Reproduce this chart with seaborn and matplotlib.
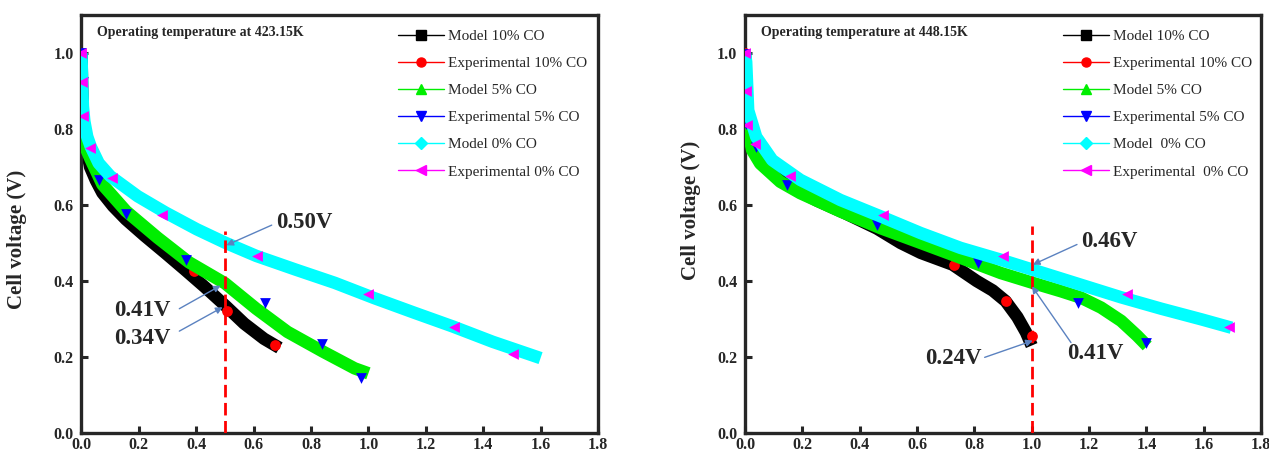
import matplotlib
matplotlib.use("Agg")
import matplotlib.pyplot as plt
from matplotlib.lines import Line2D
import seaborn as sns
import pandas as pd

# ---------------- data: 423.15 K ----------------
a_m10_x = [0.0, 0.002, 0.005, 0.01, 0.02, 0.03, 0.05, 0.073, 0.11, 0.155, 0.22, 0.29, 0.36, 0.43, 0.5, 0.567, 0.636, 0.69]
a_m10_y = [1.0, 0.92, 0.83, 0.78, 0.74, 0.70, 0.665, 0.632, 0.597, 0.562, 0.519, 0.475, 0.43, 0.384, 0.336, 0.288, 0.248, 0.224]
a_e10_x = [0.0, 0.003, 0.006, 0.393, 0.506, 0.674]
a_e10_y = [1.0, 0.92, 0.83, 0.427, 0.321, 0.231]
a_m5_x = [0.0, 0.003, 0.008, 0.015, 0.032, 0.073, 0.155, 0.265, 0.375, 0.5, 0.609, 0.718, 0.842, 0.952, 1.0]
a_m5_y = [0.85, 0.80, 0.77, 0.75, 0.72, 0.654, 0.584, 0.514, 0.449, 0.394, 0.327, 0.266, 0.214, 0.17, 0.157]
a_e5_x = [0.0, 0.004, 0.007, 0.06, 0.155, 0.364, 0.639, 0.839, 0.973]
a_e5_y = [1.0, 0.924, 0.83, 0.667, 0.575, 0.455, 0.343, 0.234, 0.144]
a_m0_x = [0.0, 0.002, 0.005, 0.01, 0.02, 0.032, 0.06, 0.1, 0.196, 0.293, 0.402, 0.5, 0.609, 0.746, 0.883, 1.02, 1.158, 1.295, 1.433, 1.6]
a_m0_y = [1.0, 0.93, 0.86, 0.82, 0.78, 0.754, 0.71, 0.676, 0.623, 0.58, 0.536, 0.501, 0.466, 0.43, 0.395, 0.355, 0.317, 0.28, 0.24, 0.197]
a_e0_x = [0.0, 0.002, 0.004, 0.029, 0.107, 0.282, 0.611, 1.0, 1.298, 1.504]
a_e0_y = [1.0, 0.924, 0.833, 0.75, 0.67, 0.573, 0.466, 0.366, 0.279, 0.209]

# ---------------- data: 448.15 K ----------------
b_m10_x = [0.0, 0.003, 0.008, 0.018, 0.04, 0.08, 0.15, 0.25, 0.35, 0.46, 0.543, 0.613, 0.724, 0.808, 0.864, 0.909, 0.95, 0.98, 1.0]
b_m10_y = [1.0, 0.93, 0.84, 0.77, 0.735, 0.695, 0.652, 0.612, 0.578, 0.538, 0.5, 0.474, 0.443, 0.40, 0.375, 0.347, 0.305, 0.265, 0.23]
b_e10_x = [0.0, 0.005, 0.01, 0.729, 0.909, 1.0]
b_e10_y = [1.0, 0.9, 0.82, 0.443, 0.347, 0.255]
b_m5_x = [0.0, 0.003, 0.008, 0.015, 0.025, 0.053, 0.123, 0.193, 0.333, 0.473, 0.613, 0.752, 0.892, 1.004, 1.102, 1.172, 1.242, 1.312, 1.368, 1.403]
b_m5_y = [0.975, 0.9, 0.83, 0.78, 0.744, 0.709, 0.661, 0.631, 0.583, 0.539, 0.5, 0.461, 0.421, 0.395, 0.373, 0.356, 0.33, 0.295, 0.256, 0.229]
b_e5_x = [0.0, 0.008, 0.004, 0.04, 0.148, 0.459, 0.811, 1.161, 1.399]
b_e5_y = [0.997, 0.9, 0.814, 0.753, 0.653, 0.548, 0.448, 0.343, 0.238]
b_m0_x = [0.0, 0.004, 0.011, 0.039, 0.095, 0.193, 0.333, 0.473, 0.613, 0.752, 0.892, 1.032, 1.172, 1.312, 1.452, 1.592, 1.697]
b_m0_y = [1.0, 0.976, 0.849, 0.779, 0.718, 0.666, 0.613, 0.57, 0.526, 0.487, 0.456, 0.423, 0.39, 0.357, 0.327, 0.299, 0.277]
b_e0_x = [0.0, 0.004, 0.008, 0.036, 0.158, 0.48, 0.9, 1.333, 1.69]
b_e0_y = [1.0, 0.901, 0.81, 0.76, 0.676, 0.574, 0.465, 0.365, 0.28]

titles = ["Operating temperature at 423.15K", "Operating temperature at 448.15K"]
labels_a = ["Model 10% CO", "Experimental 10% CO", "Model 5% CO", "Experimental 5% CO", "Model 0% CO", "Experimental 0% CO"]
labels_b = ["Model 10% CO", "Experimental 10% CO", "Model 5% CO", "Experimental 5% CO", "Model  0% CO", "Experimental  0% CO"]
x_ticks = [0.0, 0.2, 0.4, 0.6, 0.8, 1.0, 1.2, 1.4, 1.6, 1.8]
y_ticks = [0.0, 0.2, 0.4, 0.6, 0.8, 1.0]

# annotation data
a_cut = 0.5
b_cut = 1.0
a_notes = [("0.50V", 0.68, 0.553, 0.663, 0.547, 0.505, 0.494),
           ("0.41V", 0.114, 0.323, 0.341, 0.327, 0.485, 0.388),
           ("0.34V", 0.114, 0.248, 0.341, 0.268, 0.492, 0.331)]
b_notes = [("0.46V", 1.172, 0.504, 1.158, 0.496, 1.004, 0.443),
           ("0.41V", 1.123, 0.209, 1.137, 0.238, 1.001, 0.386),
           ("0.24V", 0.629, 0.195, 0.836, 0.199, 1.004, 0.243)]

sns.set_style("ticks")
plt.rcParams['font.family'] = ['Liberation Serif', 'DejaVu Serif']

colors = ['black', 'red', '#00ee00', 'blue', 'cyan', 'magenta']
markers = ['s', 'o', '^', 'v', 'D', '<']

fig = plt.figure(figsize=(12.69, 4.55), dpi=100)
ax1 = fig.add_axes([0.0642, 0.0484, 0.407, 0.9187])
ax2 = fig.add_axes([0.5871, 0.0484, 0.4066, 0.9187])

arrow_col = '#5b82c0'


def draw(ax, series, title, labels, cut, cut_top, notes, legx, ylab_xy):
    for i, (xs, ys) in enumerate(series):
        df = pd.DataFrame({'x': xs, 'y': ys})
        if i % 2 == 0:
            sns.lineplot(data=df, x='x', y='y', sort=False, color=colors[i], lw=9,
                         ax=ax, legend=False, zorder=2 + i, solid_capstyle='butt')
        else:
            sns.scatterplot(data=df, x='x', y='y', color=colors[i], marker=markers[i],
                            s=60, linewidth=0, ax=ax, legend=False, zorder=2 + i)
    ax.plot([cut, cut], [0, cut_top], color='red', lw=2, ls=(0, (4.5, 2)), zorder=10)
    for txt, tx, ty, x0, y0, x1, y1 in notes:
        ax.text(tx, ty, txt, fontsize=16.5, fontweight='bold', ha='left', va='center', zorder=12)
        ax.annotate('', xy=(x1, y1), xytext=(x0, y0),
                    arrowprops=dict(arrowstyle='-|>', color=arrow_col, lw=1.0,
                                    mutation_scale=10, shrinkA=0, shrinkB=0), zorder=12)
    ax.text(0.054, 1.055, title, fontsize=10, fontweight='bold', ha='left', va='center')
    ax.set_xlim(0, 1.8)
    ax.set_ylim(0, 1.1)
    ax.set_xticks(x_ticks)
    ax.set_yticks(y_ticks)
    ax.set_xticklabels([f"{v:.1f}" for v in x_ticks])
    ax.set_yticklabels([f"{v:.1f}" for v in y_ticks])
    for lab in ax.get_xticklabels() + ax.get_yticklabels():
        lab.set_fontweight('bold')
        lab.set_fontsize(11.5)
    ax.tick_params(axis='y', direction='in', length=5, width=2.2, right=False, pad=5.5)
    ax.tick_params(axis='x', direction='in', length=5, width=2.2, top=False, pad=3)
    for sp in ax.spines.values():
        sp.set_visible(True)
        sp.set_linewidth(2.4)
    ax.set_xlabel('')
    ax.set_ylabel('Cell voltage (V)', fontsize=15, fontweight='bold')
    ax.yaxis.set_label_coords(*ylab_xy)
    handles = [Line2D([], [], color=colors[i], lw=1, marker=markers[i], markersize=6.5 if i != 4 else 6)
               for i in range(6)]
    ax.legend(handles, labels, loc='upper left', bbox_to_anchor=(legx, 0.966), frameon=False,
              fontsize=11, handlelength=3.0, handletextpad=0.25, labelspacing=0.88,
              borderpad=0, borderaxespad=0)


draw(ax1, [(a_m10_x, a_m10_y), (a_e10_x, a_e10_y), (a_m5_x, a_m5_y), (a_e5_x, a_e5_y),
           (a_m0_x, a_m0_y), (a_e0_x, a_e0_y)], titles[0], labels_a, a_cut, 0.532, a_notes,
     0.613, (-0.105, 0.464))
draw(ax2, [(b_m10_x, b_m10_y), (b_e10_x, b_e10_y), (b_m5_x, b_m5_y), (b_e5_x, b_e5_y),
           (b_m0_x, b_m0_y), (b_e0_x, b_e0_y)], titles[1], labels_b, b_cut, 0.544, b_notes,
     0.616, (-0.085, 0.533))

fig.savefig('out.png', dpi=100)
